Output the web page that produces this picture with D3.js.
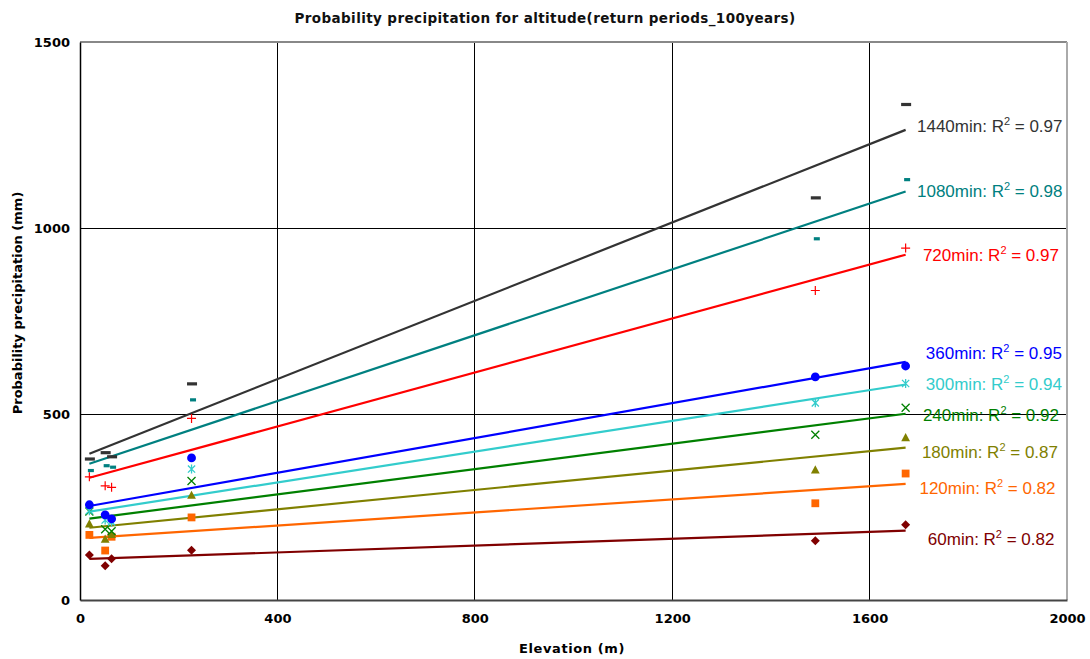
<!DOCTYPE html>
<html><head><meta charset="utf-8">
<script src="https://cdn.jsdelivr.net/npm/d3@7"></script>
<style>
html,body{margin:0;padding:0;background:#fff;}
svg{display:block;}
</style></head>
<body>
<svg id="chart" width="1090" height="659"></svg>
<script>
// ---- data ----
const elevation = [19, 51, 64, 226, 1490, 1673];
const durations = ["60min","120min","180min","240min","300min","360min","720min","1080min","1440min"];
const p60   = [121,  92, 111, 134,  159,  202];
const p120  = [175, 133, 170, 222,  260,  340];
const p180  = [204, 163, 176, 281,  349,  436];
const p240  = [238, 190, 185, 320,  444,  517];
const p300  = [240, 215, 210, 352,  530,  582];
const p360  = [256, 229, 218, 382,  600,  629];
const p720  = [331, 307, 303, 488,  832,  946];
const p1080 = [348, 361, 357, 538,  971, 1130];
const p1440 = [379, 396, 385, 581, 1081, 1332];
const r2Labels = ["0.82","0.82","0.87","0.92","0.94","0.95","0.97","0.98","0.97"];
const xTicks = [0, 400, 800, 1200, 1600, 2000];
const yTicks = [0, 500, 1000, 1500];

// ---- styling ----
const values = [p60,p120,p180,p240,p300,p360,p720,p1080,p1440];
const colors = ["#800000","#FF6600","#808000","#008000","#33CCCC","#0000FF","#FF0000","#008080","#333333"];
const markers = ["diamond","square","triangle","x","star","circle","plus","dashS","dashL"];
// label anchor (in data units: elevation, value at baseline)
const labelAt = [[1718,148],[1701,284],[1706,382],[1708,480],[1714,564],[1714,647],[1708,911],[1696,1084],[1696,1259]];

const svg = d3.select("#chart");
const L=80, R=1067, T=42, B=600;
const x = d3.scaleLinear().domain([0,2000]).range([L,R]);
const y = d3.scaleLinear().domain([0,1500]).range([B,T]);

const tickFont = "'DejaVu Sans', sans-serif";

// grid
svg.append("g").selectAll("line").data(xTicks.filter(d=>d>0&&d<2000)).join("line")
  .attr("x1",d=>x(d)).attr("x2",d=>x(d)).attr("y1",T).attr("y2",B)
  .attr("stroke","#000").attr("stroke-width",1).attr("shape-rendering","crispEdges");
svg.append("g").selectAll("line").data(yTicks.filter(d=>d>0&&d<1500)).join("line")
  .attr("x1",L).attr("x2",R).attr("y1",d=>y(d)).attr("y2",d=>y(d))
  .attr("stroke","#000").attr("stroke-width",1).attr("shape-rendering","crispEdges");
// border top/right
svg.append("line").attr("x1",L).attr("x2",R).attr("y1",y(1500)).attr("y2",y(1500))
  .attr("stroke","#888").attr("stroke-width",1.2).attr("shape-rendering","crispEdges");
svg.append("line").attr("x1",x(2000)).attr("x2",x(2000)).attr("y1",T).attr("y2",B)
  .attr("stroke","#aaa").attr("stroke-width",1.2).attr("shape-rendering","crispEdges");

// axes
const xAxis = d3.axisBottom(x).tickValues(xTicks).tickSize(0).tickPadding(14).tickFormat(d3.format("d"));
const gx = svg.append("g").attr("transform",`translate(0,${B})`).call(xAxis);
gx.select(".domain").attr("stroke","#444").attr("stroke-width",2);
gx.selectAll("text").attr("font-family",tickFont).attr("font-weight","bold").attr("font-size",13).attr("fill","#000");

const yAxis = d3.axisLeft(y).tickValues(yTicks).tickSize(0).tickPadding(10).tickFormat(d3.format("d"));
const gy = svg.append("g").attr("transform",`translate(${L},0)`).call(yAxis);
gy.select(".domain").attr("stroke","#000").attr("stroke-width",1.5);
gy.selectAll("text").attr("font-family",tickFont).attr("font-weight","bold").attr("font-size",13).attr("fill","#000");

// titles
svg.append("text").attr("x",545).attr("y",23).attr("text-anchor","middle")
  .attr("font-family",tickFont).attr("font-weight","bold").attr("font-size",13.5).attr("letter-spacing",0.4)
  .attr("fill","#111").text("Probability precipitation for altitude(return periods_100years)");
svg.append("text").attr("x",572).attr("y",653).attr("text-anchor","middle")
  .attr("font-family",tickFont).attr("font-weight","bold").attr("font-size",13).attr("letter-spacing",0.6)
  .attr("fill","#000").text("Elevation (m)");
svg.append("text").attr("transform","translate(22,303) rotate(-90)").attr("text-anchor","middle")
  .attr("font-family",tickFont).attr("font-weight","bold").attr("font-size",13)
  .attr("fill","#000").text("Probability precipitation (mm)");

// regression
function linreg(xs, ys){
  const n=xs.length, mx=d3.mean(xs), my=d3.mean(ys);
  let sxy=0,sxx=0;
  for(let i=0;i<n;i++){sxy+=(xs[i]-mx)*(ys[i]-my); sxx+=(xs[i]-mx)**2;}
  const b=sxy/sxx; return {a:my-b*mx,b};
}
const xmin=d3.min(elevation), xmax=d3.max(elevation);
const line = d3.line().x(d=>x(d[0])).y(d=>y(d[1]));

const gLines = svg.append("g");
values.forEach((vals,i)=>{
  const {a,b}=linreg(elevation, vals);
  gLines.append("path").datum([[xmin,a+b*xmin],[xmax,a+b*xmax]])
    .attr("d",line).attr("fill","none").attr("stroke",colors[i]).attr("stroke-width",2.2);
});

// markers
const gM = svg.append("g");
function drawMarker(g, type, cx, cy, col){
  switch(type){
    case "circle": g.append("circle").attr("cx",cx).attr("cy",cy).attr("r",4.4).attr("fill",col); break;
    case "square": g.append("rect").attr("x",cx-3.9).attr("y",cy-3.9).attr("width",7.8).attr("height",7.8).attr("fill",col); break;
    case "diamond": g.append("path").attr("d",`M${cx},${cy-4.5}L${cx+4.5},${cy}L${cx},${cy+4.5}L${cx-4.5},${cy}Z`).attr("fill",col); break;
    case "triangle": g.append("path").attr("d",`M${cx},${cy-4.8}L${cx+4.4},${cy+3.4}L${cx-4.4},${cy+3.4}Z`).attr("fill",col); break;
    case "plus": g.append("path").attr("d",`M${cx-4.5},${cy}H${cx+4.5}M${cx},${cy-4.5}V${cy+4.5}`).attr("stroke",col).attr("stroke-width",1.2).attr("fill","none"); break;
    case "x": g.append("path").attr("d",`M${cx-4},${cy-4}L${cx+4},${cy+4}M${cx+4},${cy-4}L${cx-4},${cy+4}`).attr("stroke",col).attr("stroke-width",1.3).attr("fill","none"); break;
    case "star": g.append("path").attr("d",`M${cx-3.6},${cy-3.6}L${cx+3.6},${cy+3.6}M${cx+3.6},${cy-3.6}L${cx-3.6},${cy+3.6}M${cx},${cy-4.5}V${cy+4.5}`).attr("stroke",col).attr("stroke-width",1.3).attr("fill","none"); break;
    case "dashS": g.append("rect").attr("x",cx-1.5).attr("y",cy-1.6).attr("width",6).attr("height",3.2).attr("fill",col); break;
    case "dashL": g.append("rect").attr("x",cx-4.5).attr("y",cy-1.6).attr("width",10).attr("height",3.2).attr("fill",col); break;
  }
}
values.forEach((vals,i)=>{
  vals.forEach((v,j)=> drawMarker(gM, markers[i], x(elevation[j]), y(v), colors[i]));
});

// trendline labels
const gL = svg.append("g").attr("font-family","'Liberation Sans', Arial, sans-serif").attr("font-size",17);
durations.forEach((d,i)=>{
  const t = gL.append("text").attr("x",x(labelAt[i][0])).attr("y",y(labelAt[i][1])).attr("fill",colors[i]);
  t.append("tspan").text(`${d}:  R`);
  t.append("tspan").attr("dy",-7).attr("font-size",11).text("2");
  t.append("tspan").attr("dy",7).text(` = ${r2Labels[i]}`);
});
</script>
</body></html>
